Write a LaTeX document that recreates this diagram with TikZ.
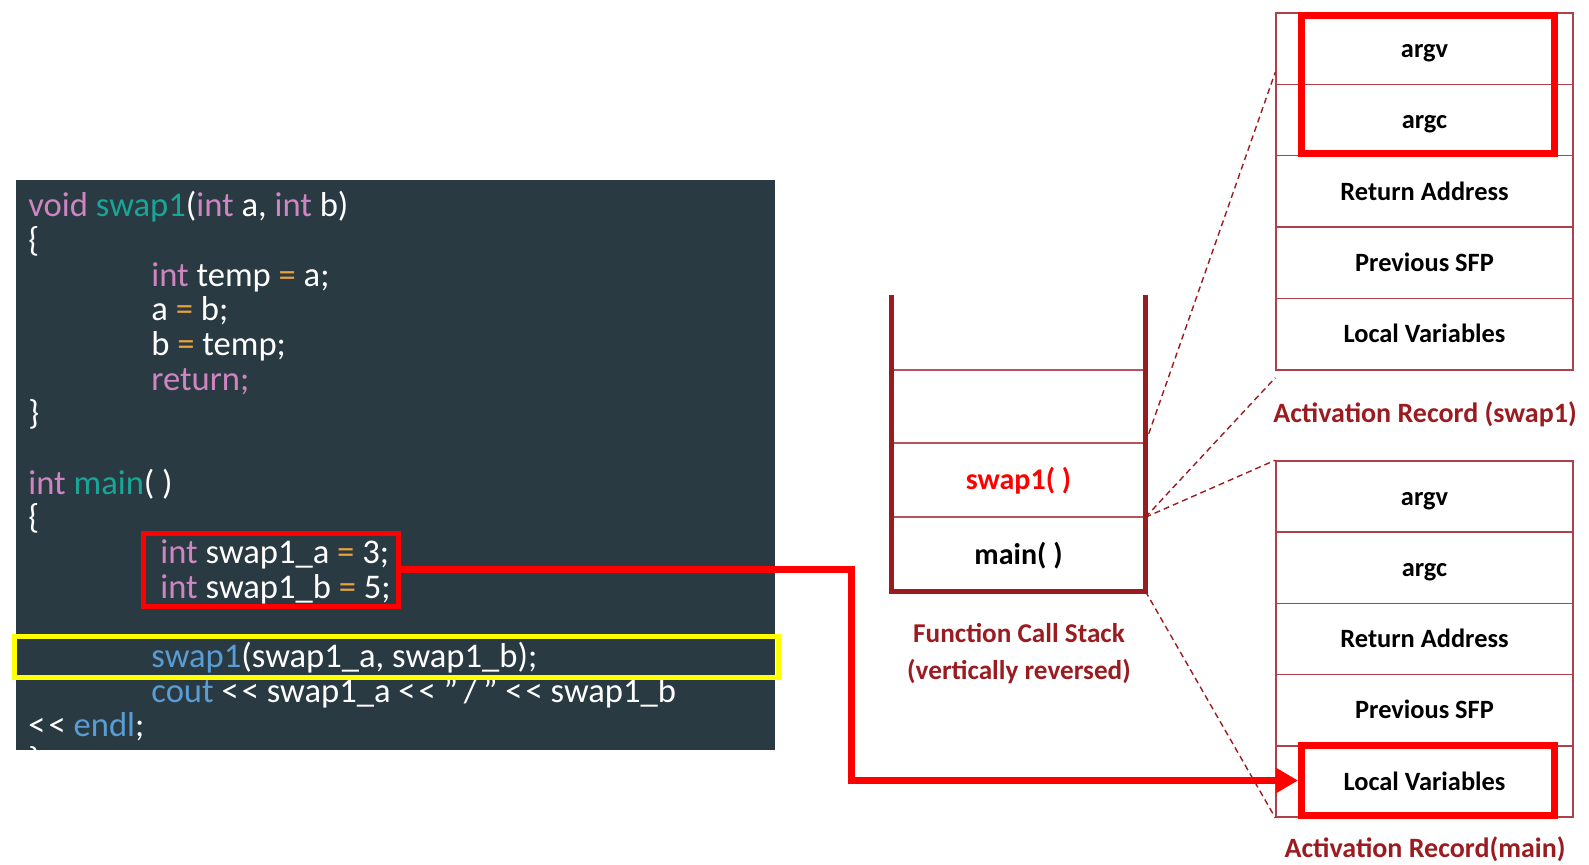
\documentclass[tikz,border=0pt]{standalone}
\usepackage{fontspec}
\setmainfont{Carlito}
\usetikzlibrary{arrows.meta,calc}
\definecolor{codebg}{HTML}{2A3A43}
\definecolor{kwpink}{HTML}{D084C2}
\definecolor{fnteal}{HTML}{17A697}
\definecolor{callblue}{HTML}{5A9CD4}
\definecolor{oporange}{HTML}{E9A23B}
\definecolor{stackred}{HTML}{9B1C20}
\definecolor{divred}{HTML}{B5545A}
\definecolor{recred}{HTML}{B0404A}
\definecolor{hlred}{HTML}{FF0000}
\definecolor{hlyellow}{HTML}{FFFF00}
\newcommand{\kw}[1]{\textcolor{kwpink}{#1}}
\newcommand{\fn}[1]{\textcolor{fnteal}{#1}}
\newcommand{\cl}[1]{\textcolor{callblue}{#1}}
\newcommand{\eq}{\textcolor{oporange}{=}}
\newcommand{\shl}{\mbox{<}\kern1.5pt\mbox{<}}
\tikzstyle{codepanel} = [fill=codebg, minimum width=379.5pt, minimum height=285pt, inner sep=0pt]
\tikzstyle{codeline} = [anchor=base west, inner sep=0pt, text=white, font=\fontsize{17.3}{20}\selectfont]
\tikzstyle{stackcell} = [minimum width=126.5pt, minimum height=36.85pt, inner sep=0pt, text height=10pt, text depth=0pt, font=\bfseries\fontsize{15}{18}\selectfont]
\tikzstyle{stackwall} = [draw=stackred, line width=2.4pt]
\tikzstyle{stackdiv} = [draw=divred, line width=1pt]
\tikzstyle{recrow} = [draw=recred, line width=0.7pt, minimum width=148.5pt, minimum height=35.7pt, inner sep=0pt, text height=8.6pt, text depth=0pt, font=\bfseries\fontsize{13.2}{16}\selectfont]
\tikzstyle{hlbox} = [draw=hlred, line width=3.5pt, inner sep=0pt, minimum width=126.5pt]
\tikzstyle{reclabel} = [text=stackred, font=\bfseries\fontsize{14}{17}\selectfont]
\tikzstyle{redlink} = [draw=hlred, line width=3.5pt, -{Triangle[length=11pt,width=12pt]}]
\tikzstyle{guide} = [draw=stackred, line width=0.7pt, dash pattern=on 3pt off 2pt]

\begin{document}
\begin{tikzpicture}[x=0.5pt,y=-0.5pt]
    \useasboundingbox (0,0) rectangle (1589,865);
    \node[codepanel] (panel) at (395.5,465) {};
    \begin{scope}
        \clip (16,180) rectangle (775,750);
        \node[codeline] (c1) at (28,217) {\kw{void} \fn{swap1}(\kw{int} a, \kw{int} b)};
        \node[codeline] (c2) at (28,251.7) {\{};
        \node[codeline] (c3) at (151,286.3) {\kw{int} temp \eq{} a;};
        \node[codeline] (c4) at (151,321) {a \eq{} b;};
        \node[codeline] (c5) at (151,355.6) {b \eq{} temp;};
        \node[codeline] (c6) at (151,390.3) {\kw{return;}};
        \node[codeline] (c7) at (28,424.9) {\}};
        \node[codeline] (c9) at (28,494.2) {\kw{int} \fn{main}( )};
        \node[codeline] (c10) at (28,528.9) {\{};
        \node[codeline] (c11) at (160,563.5) {\kw{int} swap1\_a \eq{} 3;};
        \node[codeline] (c12) at (160,598.2) {\kw{int} swap1\_b \eq{} 5;};
        \node[codeline] (c14) at (151,667.5) {\cl{swap1}(swap1\_a, swap1\_b);};
        \node[codeline] (c15) at (151,702.1) {\cl{cout} \shl{} swap1\_a \shl{} ”\,/\,” \shl{} swap1\_b};
        \node[codeline] (c16) at (28,736.8) {\shl{} \cl{endl};};
        \node[codeline] (c17) at (28,771.4) {\}};
    \end{scope}
    \node[draw=hlred, line width=2.5pt, inner sep=0pt, minimum width=127.5pt, minimum height=36.5pt] (hlCode) at (270.5,569.5) {};
    \node[draw=hlyellow, line width=2.5pt, inner sep=0pt, minimum width=382pt, minimum height=20.5pt] (hlCall) at (396,656.5) {};

    \node[stackcell] (st0) at (1018.5,332.5) {};
    \node[stackcell] (st1) at (1018.5,406) {};
    \node[stackcell, text=hlred] (st2) at (1018.5,480) {swap1( )};
    \node[stackcell] (st3) at (1018.5,554) {main( )};
    \foreach \n in {0,1,2}{
        \draw[stackdiv] (st\n.south west) -- (st\n.south east);
    }
    \draw[stackwall] (st0.north west) -- (st3.south west) -- (st3.south east) -- (st0.north east);
    \node[reclabel, align=center, font=\bfseries\fontsize{13.6}{18.5}\selectfont] (stackcap) at (1019,654)
        {Function Call Stack\\(vertically reversed)};

    \foreach \lbl [count=\i] in {argv,argc,Return Address,Previous SFP,Local Variables}{
        \node[recrow] (sw\i) at (1424.5,{13+71.4*\i-35.7}) {\lbl};
        \node[recrow] (mn\i) at (1424.5,{461+71.2*\i-35.6}) {\lbl};
    }
    \node[hlbox, minimum height=69pt] (hlArgs) at (1428,84.5) {};
    \node[hlbox, minimum height=35pt] (hlMain) at (1428,780.5) {};
    \node[reclabel] (swcap) at (1425,414) {Activation Record (swap1)};
    \node[reclabel] (mncap) at (1425,849) {Activation Record(main)};

    \draw[guide] (st1.south east) -- ($(sw1.south west)+(0,-13)$);
    \draw[guide] (st2.south east) -- ($(sw5.south west)+(0,7)$);
    \draw[guide] (st2.south east) -- (mn1.north west);
    \draw[guide] (st3.south east) -- (mn5.south west);

    \draw[redlink] (hlCode.east) -- ++(451,0) |- (hlMain.west);
\end{tikzpicture}
\end{document}
